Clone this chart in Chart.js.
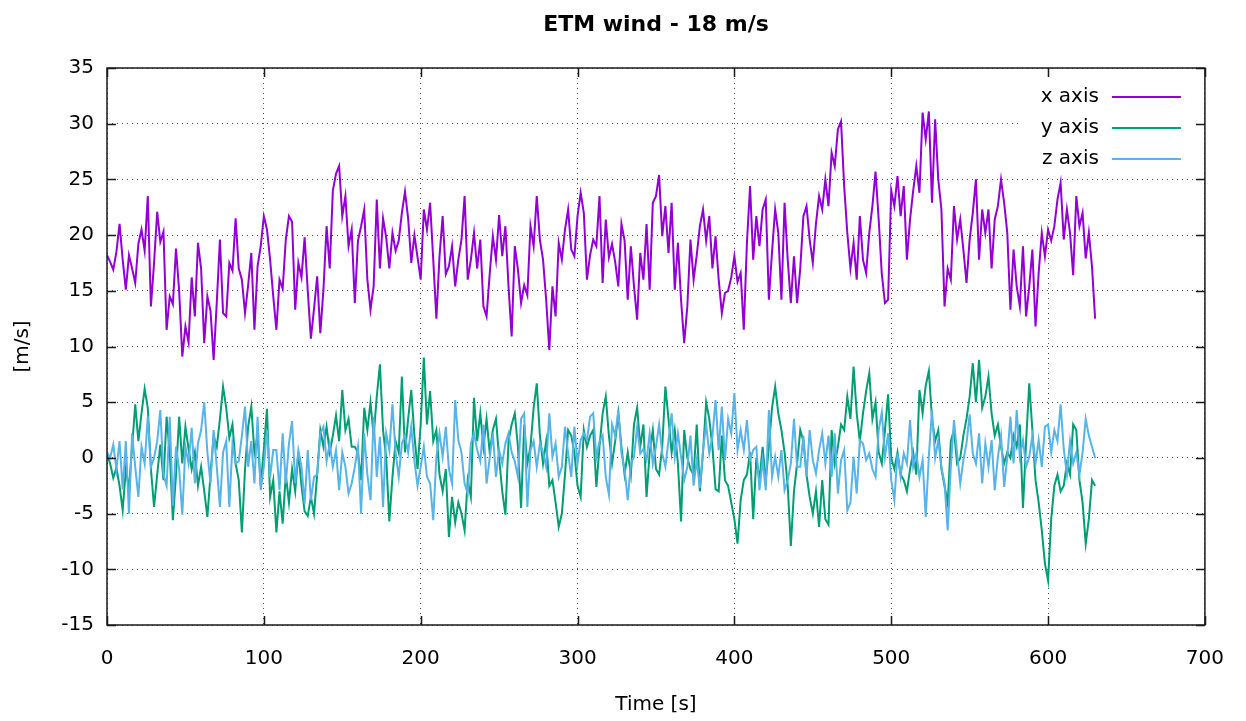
<!DOCTYPE html>
<html>
<head>
<meta charset="utf-8">
<title>ETM wind - 18 m/s</title>
<script src="https://cdn.jsdelivr.net/npm/chart.js@4.4.1/dist/chart.umd.min.js"></script>
<style>
  html, body { margin: 0; padding: 0; background: #ffffff; }
  #wrap { width: 1246px; height: 721px; }
</style>
</head>
<body>
<div id="wrap"><canvas id="windChart" width="1246" height="721"></canvas></div>
<script>
// Wind speed components, one sample every 2 s from t = 0 to t = 630 s
const SAMPLE_STEP_S = 2;

const xAxisWind = [
  18.2, 17.6, 16.9, 18.5, 21.0, 17.8, 15.1, 18.2, 17.0, 15.7, 19.2, 20.5, 18.6, 23.5, 13.6, 17.5, 22.1, 19.4, 20.3, 11.5,
  14.5, 13.8, 18.8, 15.0, 9.1, 11.8, 10.4, 16.2, 12.7, 19.3, 17.0, 10.3, 14.5, 13.2, 8.8, 14.0, 19.6, 13.0, 12.7, 17.5,
  16.8, 21.5, 17.0, 16.0, 13.0, 15.5, 18.4, 11.5, 17.2, 19.0, 21.7, 20.5, 17.8, 14.5, 11.5, 16.0, 15.2, 19.6, 21.7, 21.2,
  13.3, 17.5, 16.2, 19.8, 15.0, 10.7, 13.4, 16.3, 11.2, 15.1, 20.8, 17.0, 24.0, 25.5, 26.2, 21.7, 23.5, 19.0, 20.5,
  13.9, 19.5, 20.8, 22.3, 16.0, 13.3, 15.4, 23.2, 17.0, 21.5, 19.8, 17.0, 20.2, 18.6, 19.5, 22.0, 23.9, 21.5, 17.5, 20.0,
  18.0, 16.0, 22.3, 20.5, 22.9, 17.8, 12.5, 18.1, 21.7, 16.5, 17.2, 19.0, 15.4, 17.8, 19.6, 23.5, 16.0, 17.8, 20.2, 17.0,
  19.6, 13.6, 12.7, 16.5, 19.9, 17.8, 21.8, 18.1, 20.8, 15.4, 10.9, 19.0, 16.9, 13.9, 15.5, 14.6, 20.8, 19.0, 23.5, 19.6,
  17.8, 14.2, 9.7, 15.4, 12.7, 19.3, 17.8, 20.5, 22.3, 18.7, 18.1, 21.7, 23.8, 22.0, 16.0, 18.2, 19.6,
  19.0, 23.5, 15.7, 21.4, 18.0, 19.2, 17.6, 15.4, 21.0, 19.5, 14.2, 19.0, 15.4, 12.4, 18.4, 16.0, 21.0, 15.1, 22.9, 23.5,
  25.4, 19.9, 22.6, 18.4, 22.9, 15.1, 19.3, 14.2, 10.3, 13.6, 19.6, 16.0, 18.2, 20.8, 22.3, 19.5, 21.7, 17.0, 19.9, 16.0,
  13.0, 14.8, 15.0, 16.2, 18.1, 15.8, 16.6, 11.5, 19.3, 24.4, 17.8, 21.7, 19.0, 22.3, 23.2, 14.2, 18.5, 22.3, 20.2, 14.2,
  22.9, 17.8, 13.9, 18.1, 13.9, 17.0, 21.7, 22.6, 19.6, 17.5, 21.0, 23.5, 22.3, 25.0, 22.6, 27.4, 26.2, 29.5, 30.2,
  24.4, 20.2, 17.0, 19.3, 16.0, 21.7, 17.8, 16.6, 20.2, 22.6, 25.7, 21.4, 16.5, 13.9, 14.2, 24.0, 22.6, 25.3, 21.7, 24.4,
  17.8, 21.4, 24.0, 26.2, 23.8, 31.0, 28.6, 31.1, 22.9, 30.4, 25.0, 22.3, 13.6, 17.0, 16.0, 22.6, 19.6, 21.4, 18.7, 15.7,
  19.6, 22.0, 25.0, 17.8, 22.3, 20.2, 22.3, 17.0, 21.4, 22.6, 25.0, 22.9, 20.2, 13.3, 18.7, 15.4, 13.6, 19.0, 12.7, 15.4,
  18.7, 11.8, 16.6, 20.2, 18.1, 20.5, 19.5, 20.8, 23.2, 24.7, 19.6, 22.3, 20.2, 16.4, 23.5, 20.8, 22.0, 17.9, 20.2, 17.2,
  12.5
];

const yAxisWind = [
  0.3, -0.5, -1.8, -0.9, -2.5, -4.7, -1.0, -2.8, 1.0, 4.8, 1.5, 4.0, 6.2, 4.5, -1.0, -4.4, -1.5, 1.2, -2.0, 3.7,
  0.5, -5.6, -1.5, 3.7, -0.5, 2.8, 0.8, -1.0, 0.5, -2.5, -0.8, -3.0, -5.3, -1.5, 2.0, 1.0, 3.5, 6.4, 4.5, 1.8,
  3.0, -0.5, -2.0, -6.7, -1.0, 2.8, 4.6, 0.5, 2.0, -2.5, 0.8, 4.4, -3.5, -2.0, -6.7, -3.0, -5.9, -1.5, -4.0, -1.0,
  -3.0, 0.5, -2.5, -4.8, -5.2, -3.5, -5.0, -1.5, 2.5, 1.0, 2.8, 0.5, 2.0, 3.8, 1.5, 6.1, 2.5, 3.5, 1.0,
  1.0, 0.5, -2.0, 4.5, 2.5, 5.0, 2.0, 5.5, 8.4, 2.5, 0.0, -5.7, -1.7, 1.5, 0.5, 7.3, 0.5, 3.5, 6.1, 2.0,
  -1.0, 3.0, 9.0, 3.0, 6.0, 1.5, 2.5, -1.5, -3.0, -1.0, -7.1, -3.5, -5.8, -4.0, -5.0, -6.5, -2.0, -3.5, 5.4, 1.5,
  4.0, 1.0, 3.5, 0.5, 2.5, 3.5, 0.0, -3.0, -5.1, 1.5, 3.0, 4.0, 1.0, -4.5, 3.0, -0.5, 1.0, 4.5, 6.7, 2.0,
  -0.5, 1.5, -2.5, -2.0, -4.0, -6.2, -5.0, -1.5, 2.5, 2.0, 0.5, -2.5, -3.5, 2.5, 1.0, 2.0, 2.5,
  -2.6, 1.0, 4.0, 5.5, 2.0, -0.5, 1.5, 4.0, 1.0, -1.5, 0.5, -1.5, 3.0, 4.5, 1.0, 3.0, -3.5, 0.5, 2.5, -1.0,
  -1.5, 1.0, 6.4, 3.5, 0.5, 2.5, -0.5, -5.7, 2.5, 0.0, -1.0, -1.5, 3.0, -3.0, 0.5, 5.0, 3.5, 1.0, -2.8, -3.0,
  2.0, -2.0, -2.5, -4.0, -5.5, -7.7, -3.8, -2.0, -1.5, 0.5, -5.5, 0.0, -2.0, 1.0, -2.0, 1.0, 4.5, 6.4, 4.0, 2.5,
  0.5, -2.5, -7.9, -3.0, -0.5, 2.5, 1.5, -1.5, -3.5, -5.0, -3.0, -6.2, -2.0, -5.5, -6.0, 2.5, -0.5, 1.0, 3.0,
  2.5, 5.5, 3.5, 8.2, 4.0, 1.5, 4.0, 6.0, 7.6, 3.5, 5.0, 0.5, -0.5, 2.5, 5.7, 0.0, -1.0, 0.5, -1.5, -2.0,
  -3.0, -1.0, 0.5, -1.5, 6.1, 4.0, 6.5, 7.8, 3.5, 1.5, 2.5, -1.0, -2.5, -4.1, 1.5, 2.5, -0.5, 0.0, 2.0, 3.5,
  5.5, 8.5, 5.0, 8.8, 4.5, 5.5, 7.3, 4.0, 2.0, 3.0, 1.0, -0.5, 0.5, 0.0, 2.0, 1.0, 3.0, -4.5, 1.5, 6.7,
  2.5, -2.0, -4.0, -6.5, -9.5, -11.0, -5.5, -2.5, -1.5, -3.0, -2.5, -0.5, -1.5, 3.0, 2.5, -2.0, -4.0, -7.7, -5.5, -2.0,
  -2.5
];

const zAxisWind = [
  0.5, 0.0, 1.2, -1.0, 1.5, -2.8, 1.5, -5.0, 2.2, -0.8, -3.5, 1.0, -0.5, 3.7, -0.8, 0.0, 1.5, 4.3, -1.5, -2.5,
  3.7, -4.3, 1.0, -1.0, -5.1, 1.0, -0.5, 2.7, -2.3, 1.3, 2.5, 5.0, 0.5, -2.3, 2.5, -0.8, -4.4, 0.5, 1.5, -4.4,
  1.3, -0.5, -0.3, 2.0, 4.6, -0.8, 1.5, -2.3, 3.7, -2.9, -0.8, 2.5, -1.7, 0.7, 0.7, -2.9, 2.2, -2.3, 1.3, 3.3,
  -2.3, 0.7, -0.8, -4.1, 0.7, -3.8, -1.7, -1.5, 2.2, 2.8, -0.3, 1.3, -0.8, 0.7, -2.9, 0.5, -0.8, -3.2, -2.3,
  -0.8, 1.0, -5.0, 2.2, -1.5, -3.8, 3.7, -1.7, 1.9, -4.4, 2.2, 0.7, 4.8, 0.5, -1.7, 1.3, 2.0, 0.5, 2.8, -0.3,
  -2.5, -0.8, 1.0, -1.7, -2.3, -5.6, 0.1, 2.2, 0.1, 2.8, -1.0, -2.3, 5.2, 1.6, 0.5, -2.3, -3.2, 1.3, 2.2, 0.7,
  -0.3, 3.0, -2.3, 0.0, 2.2, -1.7, 0.7, -0.5, 1.3, 2.2, 0.5, -0.3, -1.7, 3.5, 4.0, -4.4, 0.7, 1.5, -0.8, 1.3,
  0.5, -0.8, 4.0, 0.1, 1.3, -1.7, -0.8, 2.8, 0.4, -1.7, 2.8, -0.5, 1.6, 2.2, 1.6, 3.7, 4.0,
  0.0, 1.5, 2.0, -1.7, -3.3, 3.0, 2.0, 4.3, 0.4, -1.0, -3.8, -0.5, 0.1, 2.8, 0.4, 0.8, -0.2, 2.2, -0.5, 1.0,
  3.0, 0.4, -0.8, 1.6, 4.0, 0.1, 2.2, 0.1, -2.0, -0.8, 2.0, -2.5, -0.2, -2.7, 0.7, 3.0, 0.4, 1.9, 5.2, 0.7,
  4.6, -0.2, 3.5, 2.2, 5.8, 0.7, 2.5, 0.7, 3.4, -0.2, 0.7, 1.0, -2.9, -0.2, -2.9, 4.3, -1.7, 0.1, -1.7, 0.7,
  -2.9, -2.0, -0.5, 3.5, -0.8, -0.8, 2.0, -1.7, 2.5, -0.2, -1.4, 0.7, 2.2, -0.5, 2.0, -1.7, 2.2, -3.2, -0.2,
  0.7, -4.7, -4.0, 0.1, -3.2, 1.6, 1.3, -0.2, 0.4, -1.0, -1.7, 2.5, 4.1, 0.1, 2.2, -2.0, -3.8, 0.4, -1.7, 0.4,
  -0.5, 3.4, -0.8, 0.4, -1.7, -0.2, -5.3, 0.2, 4.3, 0.0, 1.6, -0.8, -2.3, -6.5, -0.8, 3.4, 0.4, -2.3, -0.2, 1.3,
  3.9, 0.4, -0.5, 2.2, -2.3, 1.3, -0.8, 1.6, -2.9, 0.1, 2.0, -2.6, 0.1, 3.7, -0.5, 4.3, 0.1, 1.6, -0.8, 0.1,
  2.0, -0.5, 1.6, -0.8, 2.8, 3.0, 0.5, 2.5, 1.5, 4.8, 0.8, -1.5, 1.5, -0.5, 0.5, -1.5, 0.5, 3.5, 2.0, 1.0,
  0.0
];

const seriesLabels = ['x axis', 'y axis', 'z axis'];
const seriesColors = ['#9400D3', '#009E73', '#56B4E9'];
const timeRange = [0, 700];
const speedRange = [-15, 35];

const FONT = '"DejaVu Sans", Verdana, sans-serif';

function toPoints(values) {
  return values.map((v, i) => ({ x: i * SAMPLE_STEP_S, y: v }));
}

// Boxed frame with inward ticks, and a key in the top-right corner
const frameAndKey = {
  id: 'frameAndKey',
  beforeDatasetsDraw(chart) {
    const { ctx, chartArea: a } = chart;
    ctx.save();
    ctx.fillStyle = '#ffffff';
    ctx.fillRect(a.right - 187, a.top + 1, 186, 108);
    ctx.restore();
  },
  afterDatasetsDraw(chart) {
    const { ctx, chartArea: a, scales } = chart;
    ctx.save();
    ctx.strokeStyle = '#1a1a1a';
    ctx.lineWidth = 1.5;
    ctx.strokeRect(a.left, a.top, a.right - a.left, a.bottom - a.top);
    const len = 9;
    ctx.beginPath();
    scales.x.ticks.forEach(t => {
      const px = Math.round(scales.x.getPixelForValue(t.value)) + 0.5;
      ctx.moveTo(px, a.bottom); ctx.lineTo(px, a.bottom - len);
      ctx.moveTo(px, a.top); ctx.lineTo(px, a.top + len);
    });
    scales.y.ticks.forEach(t => {
      const py = Math.round(scales.y.getPixelForValue(t.value)) + 0.5;
      ctx.moveTo(a.left, py); ctx.lineTo(a.left + len, py);
      ctx.moveTo(a.right, py); ctx.lineTo(a.right - len, py);
    });
    ctx.stroke();

    ctx.font = '20px ' + FONT;
    ctx.textAlign = 'right';
    ctx.textBaseline = 'middle';
    chart.data.datasets.forEach((ds, i) => {
      const y = a.top + 29 + i * 31;
      ctx.fillStyle = '#000000';
      ctx.fillText(ds.label, a.right - 106, y);
      ctx.strokeStyle = ds.borderColor;
      ctx.lineWidth = 1.8;
      ctx.beginPath();
      ctx.moveTo(a.right - 93, y);
      ctx.lineTo(a.right - 24, y);
      ctx.stroke();
    });
    ctx.restore();
  }
};

const gridStyle = {
  color: 'rgba(0,0,0,0.7)',
  lineWidth: 1,
  drawTicks: false
};

new Chart(document.getElementById('windChart'), {
  type: 'line',
  data: {
    datasets: [xAxisWind, yAxisWind, zAxisWind].map((vals, i) => ({
      label: seriesLabels[i],
      data: toPoints(vals),
      borderColor: seriesColors[i],
      borderWidth: 2,
      pointRadius: 0,
      tension: 0,
      fill: false,
      order: 3 - i
    }))
  },
  options: {
    responsive: false,
    animation: false,
    devicePixelRatio: 1,
    layout: { padding: { left: 0, right: 39, top: 0, bottom: 0 } },
    plugins: {
      legend: { display: false },
      tooltip: { enabled: false },
      title: {
        display: true,
        fullSize: false,
        text: 'ETM wind - 18 m/s',
        color: '#000000',
        font: { family: FONT, size: 22, weight: 'bold' },
        padding: { top: 12, bottom: 29.6 }
      }
    },
    scales: {
      x: {
        type: 'linear',
        min: timeRange[0],
        max: timeRange[1],
        ticks: { stepSize: 100, color: '#000000', font: { family: FONT, size: 20 }, padding: 22, maxRotation: 0 },
        grid: gridStyle,
        border: { display: false, dash: [1, 4] },
        title: { display: true, text: 'Time [s]', color: '#000000', font: { family: FONT, size: 20 }, padding: { top: 0, bottom: 4 } },
        afterFit(scale) { scale.height = 96; }
      },
      y: {
        type: 'linear',
        min: speedRange[0],
        max: speedRange[1],
        ticks: { stepSize: 5, color: '#000000', font: { family: FONT, size: 20 }, padding: 13 },
        grid: gridStyle,
        border: { display: false, dash: [1, 4] },
        title: { display: true, text: '[m/s]', color: '#000000', font: { family: FONT, size: 20 }, padding: { top: 11, bottom: 0 } },
        afterFit(scale) { scale.width = 107; }
      }
    }
  },
  plugins: [frameAndKey]
});
</script>
</body>
</html>
